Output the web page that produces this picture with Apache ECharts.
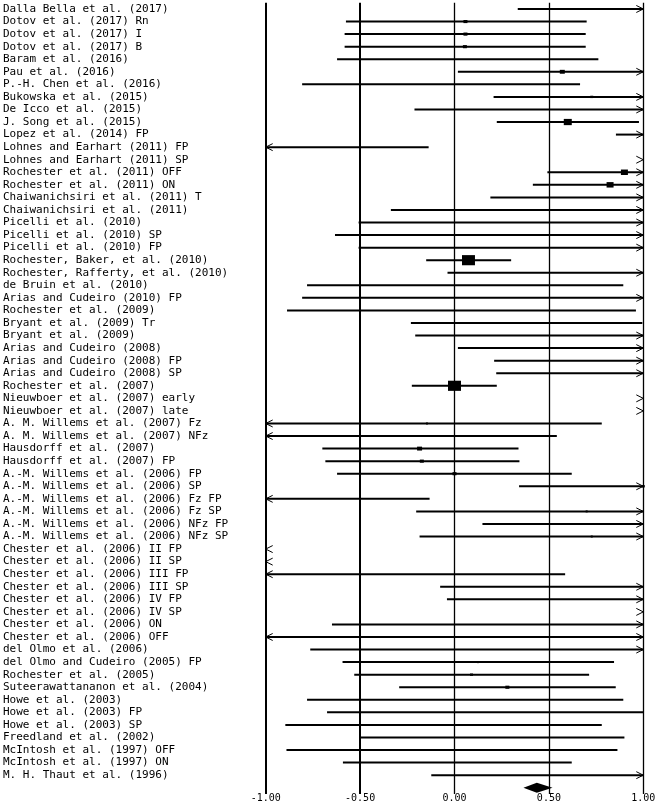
<!DOCTYPE html>
<html><head><meta charset="utf-8">
<script src="https://cdn.jsdelivr.net/npm/echarts@6/dist/echarts.min.js"></script>
<style>html,body{margin:0;padding:0;background:#fff}#c{width:660px;height:806px}</style>
</head><body><div id="c"></div>
<script>
const studies = [
"Dalla Bella et al. (2017)","Dotov et al. (2017) Rn","Dotov et al. (2017) I","Dotov et al. (2017) B",
"Baram et al. (2016)","Pau et al. (2016)","P.-H. Chen et al. (2016)","Bukowska et al. (2015)",
"De Icco et al. (2015)","J. Song et al. (2015)","Lopez et al. (2014) FP","Lohnes and Earhart (2011) FP",
"Lohnes and Earhart (2011) SP","Rochester et al. (2011) OFF","Rochester et al. (2011) ON",
"Chaiwanichsiri et al. (2011) T","Chaiwanichsiri et al. (2011)","Picelli et al. (2010)",
"Picelli et al. (2010) SP","Picelli et al. (2010) FP","Rochester, Baker, et al. (2010)",
"Rochester, Rafferty, et al. (2010)","de Bruin et al. (2010)","Arias and Cudeiro (2010) FP",
"Rochester et al. (2009)","Bryant et al. (2009) Tr","Bryant et al. (2009)","Arias and Cudeiro (2008)",
"Arias and Cudeiro (2008) FP","Arias and Cudeiro (2008) SP","Rochester et al. (2007)",
"Nieuwboer et al. (2007) early","Nieuwboer et al. (2007) late","A. M. Willems et al. (2007) Fz",
"A. M. Willems et al. (2007) NFz","Hausdorff et al. (2007)","Hausdorff et al. (2007) FP",
"A.-M. Willems et al. (2006) FP","A.-M. Willems et al. (2006) SP","A.-M. Willems et al. (2006) Fz FP",
"A.-M. Willems et al. (2006) Fz SP","A.-M. Willems et al. (2006) NFz FP","A.-M. Willems et al. (2006) NFz SP",
"Chester et al. (2006) II FP","Chester et al. (2006) II SP","Chester et al. (2006) III FP",
"Chester et al. (2006) III SP","Chester et al. (2006) IV FP","Chester et al. (2006) IV SP",
"Chester et al. (2006) ON","Chester et al. (2006) OFF","del Olmo et al. (2006)",
"del Olmo and Cudeiro (2005) FP","Rochester et al. (2005)","Suteerawattananon et al. (2004)",
"Howe et al. (2003)","Howe et al. (2003) FP","Howe et al. (2003) SP","Freedland et al. (2002)",
"McIntosh et al. (1997) OFF","McIntosh et al. (1997) ON","M. H. Thaut et al. (1996)"
];
const lower = [0.335,-0.575,-0.582,-0.582,-0.622,0.018,-0.807,0.207,-0.212,0.224,0.855,-1.30,
1.10,0.492,0.415,0.190,-0.337,-0.508,-0.633,-0.508,-0.150,-0.037,-0.781,-0.807,-0.887,-0.231,-0.208,0.018,
0.210,0.221,-0.226,1.10,1.10,-1.30,-1.30,-0.700,-0.684,-0.622,0.342,-1.30,-0.203,0.148,-0.185,
-1.60,-1.60,-1.30,-0.076,-0.040,1.10,-0.649,-1.30,-0.764,-0.593,-0.531,-0.293,-0.781,-0.675,-0.896,-0.500,
-0.890,-0.591,-0.123];
const upper = [1.40,0.700,0.695,0.695,0.762,1.20,0.665,1.25,1.30,0.977,1.30,-0.137,
1.70,1.35,1.30,1.25,1.30,1.25,1.30,1.25,0.300,1.30,0.894,1.20,0.961,0.995,1.20,1.25,
1.30,1.25,0.224,1.60,1.60,0.780,0.542,0.339,0.344,0.621,1.50,-0.132,1.30,1.35,1.30,
-1.10,-1.10,0.586,1.30,1.30,1.70,1.20,1.30,1.20,0.845,0.713,0.854,0.894,1.000,0.780,0.900,
0.863,0.621,1.25];
const estimate = [null,0.058,0.058,0.055,null,0.571,null,0.727,null,0.600,null,null,
null,0.900,0.824,null,null,null,null,null,0.074,null,null,null,null,null,null,null,
null,null,0.000,null,null,-0.146,null,-0.185,-0.173,0.000,1.000,null,0.700,null,0.727,
null,null,null,null,null,null,null,null,null,0.124,0.090,0.280,null,null,null,null,
null,null,null];
const weights = [0,4,4,4,0,5,0,3,0,8,0,0,0,7,7,0,0,0,0,0,13,0,0,0,0,0,0,0,0,0,13,0,0,2,0,5,4,4,3,0,2,0,2,
0,0,0,0,0,0,0,0,0,2,3,4,0,0,0,0,0,0,0];
const pooledLower = 0.365, pooledEstimate = 0.436, pooledUpper = 0.519;
const xTicks = [-1, -0.5, 0, 0.5, 1];

const cats = studies.concat(['']);
const chart = echarts.init(document.getElementById('c'), null, {renderer:'canvas'});
const gridLeft = 265.7, gridRight = 16.7, gridTop = 2.7, gridBottom = 12;

function renderStudy(params, api){
  const i = params.dataIndex;
  const lo = lower[i], hi = upper[i], est = estimate[i], w = weights[i];
  const y = api.coord([0, i])[1];
  const xmin = api.coord([-1, i])[0], xmax = api.coord([1, i])[0];
  const children = [];
  const stroke = {stroke:'#000', lineWidth:2};
  if (hi > -1 && lo < 1) {
    const x1 = api.coord([Math.max(lo,-1), i])[0];
    const x2 = api.coord([Math.min(hi,1), i])[0];
    children.push({type:'line', shape:{x1:x1,y1:y,x2:x2,y2:y}, style:stroke});
  }
  const ah = 7, av = 3.5;
  if (hi > 1) {
    children.push({type:'polyline', shape:{points:[[xmax-ah,y-av],[xmax,y],[xmax-ah,y+av]]}, style:{stroke:'#000', lineWidth:1, fill:null}});
  }
  if (lo < -1) {
    children.push({type:'polyline', shape:{points:[[xmin+ah,y-av],[xmin,y],[xmin+ah,y+av]]}, style:{stroke:'#000', lineWidth:1, fill:null}});
  }
  if (est !== null && w > 0) {
    const cx = api.coord([est, i])[0];
    const bw = w, bh = Math.max(2, w*0.78);
    children.push({type:'rect', shape:{x:cx-bw/2, y:y-bh/2, width:bw, height:bh}, style:{fill:'#000'}});
  }
  return {type:'group', children:children};
}

function renderPooled(params, api){
  const idx = studies.length;
  const y = api.coord([0, idx])[1];
  const xl = api.coord([pooledLower, idx])[0];
  const xe = api.coord([pooledEstimate, idx])[0];
  const xh = api.coord([pooledUpper, idx])[0];
  const h = 5;
  return {type:'polygon', shape:{points:[[xl,y],[xe,y-h],[xh,y],[xe,y+h]]}, style:{fill:'#000'}};
}

const option = {
  animation:false,
  grid:{left:gridLeft, right:gridRight, top:gridTop, bottom:gridBottom, containLabel:false},
  xAxis:{type:'value', min:-1, max:1, interval:0.5,
    axisLine:{show:false}, axisTick:{show:false}, splitLine:{show:false},
    axisLabel:{margin:-1, color:'#000', fontFamily:'DejaVu Sans Mono', fontSize:10,
      formatter:v => v.toFixed(2)}},
  yAxis:{type:'category', data:cats, inverse:true,
    axisLine:{show:false}, axisTick:{show:false}, splitLine:{show:false},
    axisLabel:{align:'left', margin:gridLeft-3, color:'#000', fontFamily:'DejaVu Sans Mono', fontSize:11, interval:0}},
  series:[
    {type:'custom', name:'studies', renderItem:renderStudy, data:studies.map((s,i)=>[lower[i], i]),
      encode:{x:0, y:1}, silent:true, clip:false,
      markLine:{silent:true, symbol:'none', label:{show:false},
        data:xTicks.map(t=>({xAxis:t, lineStyle:{color:'#000', type:'solid', width:(t<0?2:1.3)}}))}},
    {type:'custom', name:'pooled', renderItem:renderPooled, data:[[pooledEstimate, studies.length]],
      encode:{x:0, y:1}, silent:true, clip:false}
  ]
};
chart.setOption(option);
</script></body></html>
